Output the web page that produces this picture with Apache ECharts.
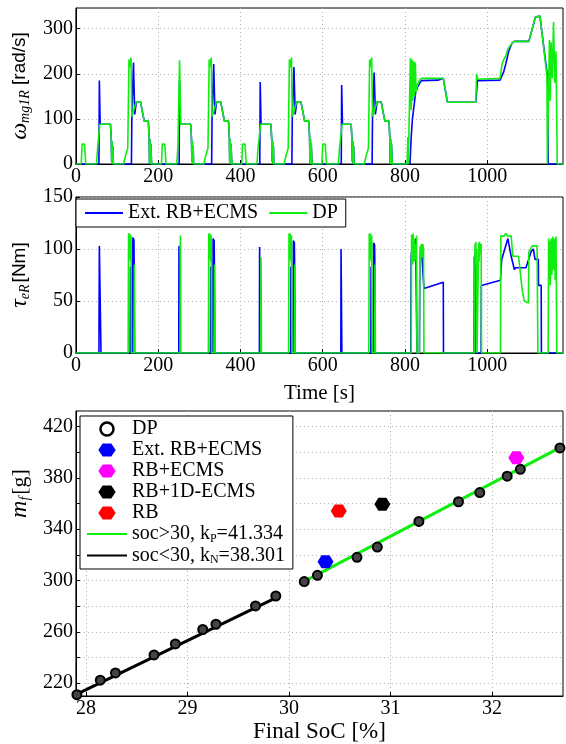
<!DOCTYPE html>
<html><head><meta charset="utf-8">
<script src="https://cdn.jsdelivr.net/npm/echarts@6/dist/echarts.min.js"></script>
<style>html,body{margin:0;padding:0;background:#fff}#c{width:566px;height:744px}</style>
</head><body><div id="c"></div>
<script>
// ---- Panel 1: omega_mg1R [rad/s] vs time [s] ----
const omegaExt = [
[0,0],[56,0],[57,185],[58,185],[59,88],[84,88],[86,55],[87,5],[88,50],[89,0],[90,40],[91,0],
[135,0],[136,105],[139,105],[140,225],[142,225],[143,110],[147,138],[157,138],[166,95],[176,95],[178,60],[179,0],[180,55],[181,0],[182,45],[184,0],
[251,0],[252,185],[253,185],[254,88],[279,88],[281,55],[282,5],[283,50],[284,0],[285,40],[286,0],
[330,0],[331,105],[334,105],[335,222],[337,222],[338,110],[342,138],[352,138],[361,95],[371,95],[373,60],[374,0],[375,55],[376,0],[377,45],[379,0],
[447,0],[448,182],[449,182],[450,88],[474,88],[476,55],[477,5],[478,50],[479,0],[480,40],[481,0],
[525,0],[526,105],[529,105],[530,215],[532,215],[533,110],[537,138],[547,138],[556,95],[566,95],[568,60],[569,0],[570,55],[571,0],[572,45],[574,0],
[645,0],[646,175],[647,175],[648,88],[669,88],[671,55],[672,5],[673,50],[674,0],[675,40],[676,0],
[720,0],[721,105],[724,105],[725,203],[727,203],[728,110],[732,138],[742,138],[751,95],[761,95],[763,60],[764,0],[765,55],[766,0],[767,45],[769,0],
[812,0],[815,60],[818,100],[822,130],[826,160],[830,170],[836,180],[840,185],[880,186],[893,190],[903,137],[972,137],[976,185],[1031,186],[1040,205],[1045,222],[1052,250],[1060,268],[1066,272],[1101,272],[1117,326],[1120,328],[1128,328],[1133,290],[1147,190],[1148,0],[1184,0]
];
const omegaDP = [
[0,0],[13,0],[15,44],[21,44],[24,0],
[50,0],[53,38],[55,42],[58,88],[84,88],[86,55],[87,5],[88,50],[89,0],[90,40],[91,0],
[116,0],[121,20],[126,35],[129,232],[131,235],[132,215],[134,236],[136,105],[140,105],[147,138],[157,138],[166,95],[176,95],[178,60],[179,0],[180,55],[181,0],[182,45],[184,0],
[208,0],[210,44],[216,44],[219,0],
[245,0],[248,38],[251,42],[252,230],[253.5,230],[255,88],[279,88],[281,55],[282,5],[283,50],[284,0],[285,40],[286,0],
[311,0],[316,20],[321,35],[324,232],[326,235],[327,215],[329,236],[331,105],[335,105],[342,138],[352,138],[361,95],[371,95],[373,60],[374,0],[375,55],[376,0],[377,45],[379,0],
[403,0],[405,44],[411,44],[414,0],
[440,0],[443,38],[446,42],[449,88],[474,88],[476,55],[477,5],[478,50],[479,0],[480,40],[481,0],
[506,0],[511,20],[516,35],[519,232],[521,235],[522,215],[524,236],[526,105],[530,105],[537,138],[547,138],[556,95],[566,95],[568,60],[569,0],[570,55],[571,0],[572,45],[574,0],
[598,0],[600,44],[606,44],[609,0],
[638,0],[641,38],[644,42],[647,88],[669,88],[671,55],[672,5],[673,50],[674,0],[675,40],[676,0],
[701,0],[706,20],[711,35],[714,232],[716,235],[717,215],[719,236],[721,105],[725,105],[732,138],[742,138],[751,95],[761,95],[763,60],[764,0],[765,55],[766,0],[767,45],[769,0],
[805,0],[807,60],[808,0],[811,0],[813,235],[815,120],[817,232],[819,140],[821,228],[823,150],[825,225],[827,160],[830,175],[835,185],[840,190],[893,190],[903,137],[972,137],[974,200],[976,188],[980,190],[1031,190],[1036,222],[1038,228],[1040,225],[1045,240],[1050,255],[1060,268],[1066,272],[1101,272],[1117,326],[1120,328],[1128,328],[1133,290],[1145,195],[1146,0],[1149,0],[1151,275],[1153,140],[1155,270],[1158,190],[1161,315],[1164,180],[1167,250],[1170,0],[1184,0]
];
// ---- Panel 2: tau_eR [Nm] vs time [s] ----
const torqueExt = [
[0,0],[56,0],[57,103],[60,103],[61,0],
[132,0],[132.5,83],[133,0],[138,0],[138.5,111],[141,109],[141.5,90],[142,90],[142.5,0],
[250,0],[250.5,103],[252,103],[252.5,0],
[327,0],[327.5,83],[328,0],[333,0],[333.5,110],[336,108],[336.5,90],[337,90],[337.5,0],
[446,0],[446.5,102],[448,102],[448.5,0],
[522,0],[522.5,83],[523,0],[528,0],[528.5,108],[531,106],[531.5,90],[532,90],[532.5,0],
[644,0],[644.5,100],[646,100],[646.5,0],
[717,0],[717.5,83],[718,0],[723,0],[723.5,106],[726,104],[726.5,90],[727,90],[727.5,0],
[814,0],[815,92],[818,108],[822,95],[826,110],[829,0],[835,0],[836,92],[840,100],[846,62],[893,68],[893.5,0],
[968,0],[968.5,92],[971,95],[971.5,0],[985,0],[985.5,65],[1032,70],[1035,90],[1050,110],[1058,93],[1066,80],[1068,82],[1094,82],[1107,98],[1112,100],[1116,90],[1124,90],[1124.5,65],[1131,65],[1131.5,0],[1184,0]
];
const torqueDP = [
[0,0],[127,0],[128,115],[129,110],[130,90],[131,115],[133,88],[134,113],[135,0],[141,0],[142,85],[143,0],
[253,0],[254,113],[255,0],
[322,0],[323,115],[324,110],[325,90],[326,115],[328,88],[329,113],[330,0],[336,0],[337,85],[338,0],
[449,0],[450,92],[451,0],
[517,0],[518,115],[519,110],[520,90],[521,115],[523,88],[524,113],[525,0],[531,0],[532,85],[533,0],
[712,0],[713,115],[714,110],[715,90],[716,115],[718,88],[719,113],[720,0],[726,0],[727,85],[728,0],
[815,0],[816,114],[817,95],[818,112],[819,85],[820,115],[821,92],[822,110],[823,88],[825,105],[826,90],[828,113],[829,0],[835,0],[836,95],[837,103],[838,88],[840,105],[841,92],[843,105],[845,100],[846,0],
[969,0],[970,105],[971,92],[972,107],[973,85],[974,100],[975,0],[978,0],[979,106],[980,88],[981,107],[983,95],[985,105],[986,0],
[1032,0],[1033,113],[1040,112],[1045,115],[1050,112],[1058,113],[1062,93],[1076,93],[1085,60],[1090,50],[1100,48],[1101,97],[1105,100],[1109,103],[1121,103],[1123,0],
[1148,0],[1149,110],[1150,70],[1152,108],[1153,65],[1155,110],[1157,75],[1159,112],[1161,80],[1163,110],[1165,70],[1167,112],[1169,0],[1184,0]
];
// ---- Panel 3: fuel mass vs final SoC ----
const dpSoc  = [27.91, 28.14, 28.29, 28.67, 28.88, 29.15, 29.28, 29.67, 29.87, 30.15, 30.28, 30.67, 30.87, 31.28, 31.67, 31.88, 32.15, 32.28, 32.67];
const dpFuel = [211.0, 222.3, 228.0, 242.0, 250.6, 261.8, 265.9, 280.2, 287.9, 299.1, 304.0, 318.0, 326.0, 346.0, 361.3, 368.5, 381.2, 386.6, 403.2];
const extPoint  = [30.36, 314.6];
const rbEcmsPoint = [32.24, 395.5];
const rb1dPoint = [30.92, 359.3];
const rbPoint   = [30.49, 354.2];
const fitHighSoc = [30.15, 32.68];
const fitHighFuel = [299.3, 403.9];
const fitLowSoc = [27.90, 29.90];
const fitLowFuel = [211.0, 287.6];
const timeTicks = [0, 200, 400, 600, 800, 1000];
const omegaTicks = [0, 100, 200, 300];
const torqueTicks = [0, 50, 100, 150];
const socTicks = [28, 29, 30, 31, 32];
const fuelLabels = [220, 260, 300, 340, 380, 420];
const fuelGrid = [220, 240, 260, 280, 300, 320, 340, 360, 380, 400, 420];

const F = 'Liberation Serif';
const GREEN = '#10ee10', BLUE = '#0000ff';
const gridLine = {show:true, lineStyle:{color:'#b0b0b0', type:[1,3], width:1}};
const axLine = {show:true, lineStyle:{color:'#000', width:1}};
const tick = {show:true, inside:true, length:4, lineStyle:{color:'#000'}};
const lbl = {fontFamily:F, fontSize:20, color:'#000', margin:3, formatter:function(v){return String(v);}};
const zip = (a,b) => a.map((v,i)=>[v,b[i]]);
const withVals = (o, vals) => Object.assign({customValues:vals}, o);

const hexSym = 'path://M0,6 L4,0 L12,0 L16,6 L12,12 L4,12 Z';
const noSym = {opacity:0};

const option = {
  animation:false,
  backgroundColor:'#fff',
  grid:[
    {left:65, top:8, width:498, height:156, show:true, borderColor:'#000', borderWidth:1, backgroundColor:'transparent'},
    {left:65, top:197, width:498, height:156, show:true, borderColor:'#000', borderWidth:1, backgroundColor:'transparent'},
    {left:70, top:411, width:493, height:290, show:true, borderColor:'#000', borderWidth:1, backgroundColor:'transparent'}
  ],
  xAxis:[
    {gridIndex:0, type:'value', min:0, max:1184, axisLine:axLine, axisTick:withVals(tick,timeTicks), axisLabel:withVals(lbl,timeTicks), splitLine:gridLine},
    {gridIndex:1, type:'value', min:0, max:1184, axisLine:axLine, axisTick:withVals(tick,timeTicks), axisLabel:withVals(lbl,timeTicks), splitLine:gridLine,
     name:'Time [s]', nameLocation:'middle', nameGap:30, nameTextStyle:{fontFamily:F, fontSize:21, color:'#000'}},
    {gridIndex:2, type:'value', min:27.9, max:32.7, axisLine:axLine, axisTick:withVals(tick,socTicks), axisLabel:withVals(lbl,socTicks), splitLine:gridLine,
     name:'Final SoC [%]', nameLocation:'middle', nameGap:24, nameTextStyle:{fontFamily:F, fontSize:23, color:'#000'}}
  ],
  yAxis:[
    {gridIndex:0, type:'value', min:0, max:346, axisLine:axLine, axisTick:withVals(tick,omegaTicks), axisLabel:withVals(lbl,omegaTicks), splitLine:gridLine,
     name:'{it|ω}{sub|mg1R}{sans| [rad/s]}', nameLocation:'middle', nameGap:36, nameRotate:90,
     nameTextStyle:{rich:{it:{fontFamily:F, fontStyle:'italic', fontSize:24, color:'#000'}, sub:{fontFamily:F, fontStyle:'italic', fontSize:14, color:'#000', padding:[10,0,0,0]}, sans:{fontFamily:'Liberation Sans', fontSize:19, color:'#000'}}}},
    {gridIndex:1, type:'value', min:0, max:150, axisLine:axLine, axisTick:withVals(tick,torqueTicks), axisLabel:withVals(lbl,torqueTicks), splitLine:gridLine,
     name:'{it|τ}{sub|eR}{sans|[Nm]}', nameLocation:'middle', nameGap:36, nameRotate:90,
     nameTextStyle:{rich:{it:{fontFamily:F, fontStyle:'italic', fontSize:24, color:'#000'}, sub:{fontFamily:F, fontStyle:'italic', fontSize:14, color:'#000', padding:[10,2,0,0]}, sans:{fontFamily:'Liberation Sans', fontSize:19, color:'#000'}}}},
    {gridIndex:2, type:'value', min:210, max:432, axisLine:axLine, axisTick:withVals(tick,fuelGrid), axisLabel:withVals(lbl,fuelLabels), splitLine:gridLine,
     name:'{it|m}{sub|f}{ser|[g]}', nameLocation:'middle', nameGap:38, nameRotate:90,
     nameTextStyle:{padding:[0,0,0,120], rich:{it:{fontFamily:F, fontStyle:'italic', fontSize:24, color:'#000'}, sub:{fontFamily:F, fontStyle:'italic', fontSize:14, color:'#000', padding:[10,2,0,0]}, ser:{fontFamily:F, fontSize:22, color:'#000'}}}}
  ],
  legend:[
    {data:['Ext. RB+ECMS','DP'], left:76, top:199, orient:'horizontal', backgroundColor:'#fff', borderColor:'#000', borderWidth:1,
     padding:[4,8,4,8], itemWidth:38, itemHeight:12, itemGap:10, selectedMode:false, itemStyle:noSym,
     textStyle:{fontFamily:F, fontSize:20, color:'#000'}},
    {data:[{name:'DP ', itemStyle:{color:'#fff', borderColor:'#000', borderWidth:2.5}},'Ext. RB+ECMS ','RB+ECMS','RB+1D-ECMS','RB',
           {name:'soc>30', itemStyle:noSym},{name:'soc<30', itemStyle:noSym}],
     left:80, top:416, orient:'vertical', backgroundColor:'#fff', borderColor:'#000', borderWidth:1, padding:[3,8,3,6],
     itemWidth:40, itemHeight:13, itemGap:1, selectedMode:false,
     formatter:function(n){
       if(n==='soc>30') return '{t|soc>30, k}{s|P}{t|=41.334}';
       if(n==='soc<30') return '{t|soc<30, k}{s|N}{t|=38.301}';
       return '{t|'+n+'}';
     },
     textStyle:{fontFamily:F, fontSize:20, color:'#000', rich:{t:{fontFamily:F, fontSize:20, color:'#000'}, s:{fontFamily:F, fontSize:12, color:'#000', padding:[9,0,0,0]}}}}
  ],
  series:[
    {name:'Ext. RB+ECMS', type:'line', xAxisIndex:0, yAxisIndex:0, data:omegaExt, symbol:'none', lineStyle:{color:BLUE, width:1.6}, itemStyle:{color:BLUE}},
    {name:'DP', type:'line', xAxisIndex:0, yAxisIndex:0, data:omegaDP, symbol:'none', lineStyle:{color:GREEN, width:1.6}, itemStyle:{color:GREEN}},
    {name:'Ext. RB+ECMS', type:'line', xAxisIndex:1, yAxisIndex:1, data:torqueExt, symbol:'none', lineStyle:{color:BLUE, width:1.6}, itemStyle:{color:BLUE}},
    {name:'DP', type:'line', xAxisIndex:1, yAxisIndex:1, data:torqueDP, symbol:'none', lineStyle:{color:GREEN, width:1.6}, itemStyle:{color:GREEN}},
    {name:'soc>30', type:'line', xAxisIndex:2, yAxisIndex:2, data:zip(fitHighSoc, fitHighFuel), symbol:'none', lineStyle:{color:GREEN, width:3}, itemStyle:{color:GREEN}, z:2},
    {name:'soc<30', type:'line', xAxisIndex:2, yAxisIndex:2, data:zip(fitLowSoc, fitLowFuel), symbol:'none', lineStyle:{color:'#000', width:3}, itemStyle:{color:'#000'}, z:2},
    {name:'DP ', type:'scatter', xAxisIndex:2, yAxisIndex:2, data:zip(dpSoc, dpFuel), symbol:'circle', symbolSize:9, itemStyle:{color:'#444', borderColor:'#000', borderWidth:2, opacity:1}, z:3},
    {name:'Ext. RB+ECMS ', type:'scatter', xAxisIndex:2, yAxisIndex:2, data:[extPoint], symbol:hexSym, symbolSize:[16,13], itemStyle:{color:BLUE, opacity:1}, z:4},
    {name:'RB+ECMS', type:'scatter', xAxisIndex:2, yAxisIndex:2, data:[rbEcmsPoint], symbol:hexSym, symbolSize:[16,13], itemStyle:{color:'#ff00ff', opacity:1}, z:4},
    {name:'RB+1D-ECMS', type:'scatter', xAxisIndex:2, yAxisIndex:2, data:[rb1dPoint], symbol:hexSym, symbolSize:[16,13], itemStyle:{color:'#000', opacity:1}, z:4},
    {name:'RB', type:'scatter', xAxisIndex:2, yAxisIndex:2, data:[rbPoint], symbol:hexSym, symbolSize:[16,13], itemStyle:{color:'#ff0000', opacity:1}, z:4}
  ]
};
const chart = echarts.init(document.getElementById('c'), null, {renderer:'canvas'});
chart.setOption(option);
</script>
</body></html>
